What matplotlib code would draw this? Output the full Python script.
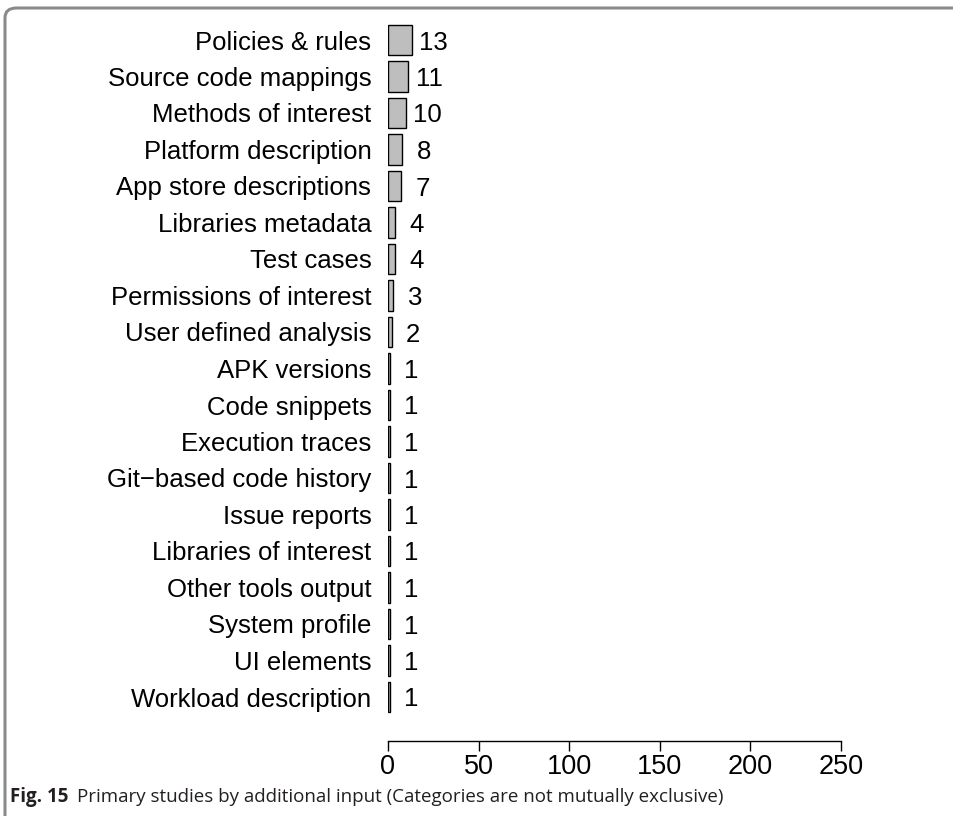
# primary studies by additional input, horizontal bar chart

import matplotlib.pyplot as plt
from matplotlib.patches import FancyBboxPatch

# data
categories = ['Policies & rules', 'Source code mappings', 'Methods of interest',
              'Platform description', 'App store descriptions', 'Libraries metadata',
              'Test cases', 'Permissions of interest', 'User defined analysis',
              'APK versions', 'Code snippets', 'Execution traces',
              'Git\u2212based code history', 'Issue reports', 'Libraries of interest',
              'Other tools output', 'System profile', 'UI elements',
              'Workload description']
counts = [13, 11, 10, 8, 7, 4, 4, 3, 2, 1, 1, 1, 1, 1, 1, 1, 1, 1, 1]
xticks = [0, 50, 100, 150, 200, 250]

W, H = 954, 816
fig = plt.figure(figsize=(W / 100, H / 100), dpi=100)

# panel border (top + left, rounded top-left corner)
border = FancyBboxPatch((5 / W, -0.1), (W + 20) / W, (H - 8) / H + 0.1,
                        boxstyle='round,pad=0,rounding_size=0.012',
                        transform=fig.transFigure, fill=False,
                        edgecolor='#8a8a8a', linewidth=2.2)
fig.patches.append(border)

# axes placed in pixels: x 0 at 388px, 250 at 841px; bottom spine at 741px
top_px, bot_px = 20, 741
ax = fig.add_axes([388 / W, 1 - bot_px / H, (841 - 388) / W, (bot_px - top_px) / H])

pos = list(range(len(categories)))
ax.barh(pos, counts, height=0.83, color='#bebebe', edgecolor='black', linewidth=1.0)

step = 36.5
ax.set_ylim((bot_px - 40) / step, (top_px - 40) / step)
ax.set_xlim(0, 250)

for p, c in zip(pos, counts):
    ax.text(c + 12, p, str(c), ha='center', va='center_baseline',
            fontsize=18.5, family='Liberation Sans')

ax.set_yticks(pos)
ax.set_yticklabels(categories, fontsize=18.5, family='Liberation Sans',
                   va='center_baseline')
ax.tick_params(axis='y', length=0, pad=12)

ax.set_xticks(xticks)
ax.set_xticklabels([str(t) for t in xticks], fontsize=19.5, family='Liberation Sans')
ax.tick_params(axis='x', length=7, width=1, pad=2)

for s in ['top', 'right', 'left']:
    ax.spines[s].set_visible(False)
ax.spines['bottom'].set_linewidth(1)

# caption
fig.text(10 / W, 1 - 797 / H, 'Fig. 15', fontsize=13.5, fontweight='bold',
         family='Open Sans', va='center', color='#231f20')
fig.text(77 / W, 1 - 797 / H,
         'Primary studies by additional input (Categories are not mutually exclusive)',
         fontsize=13.5, family='Open Sans', va='center', color='#231f20')

fig.savefig('out.png', dpi=100)
